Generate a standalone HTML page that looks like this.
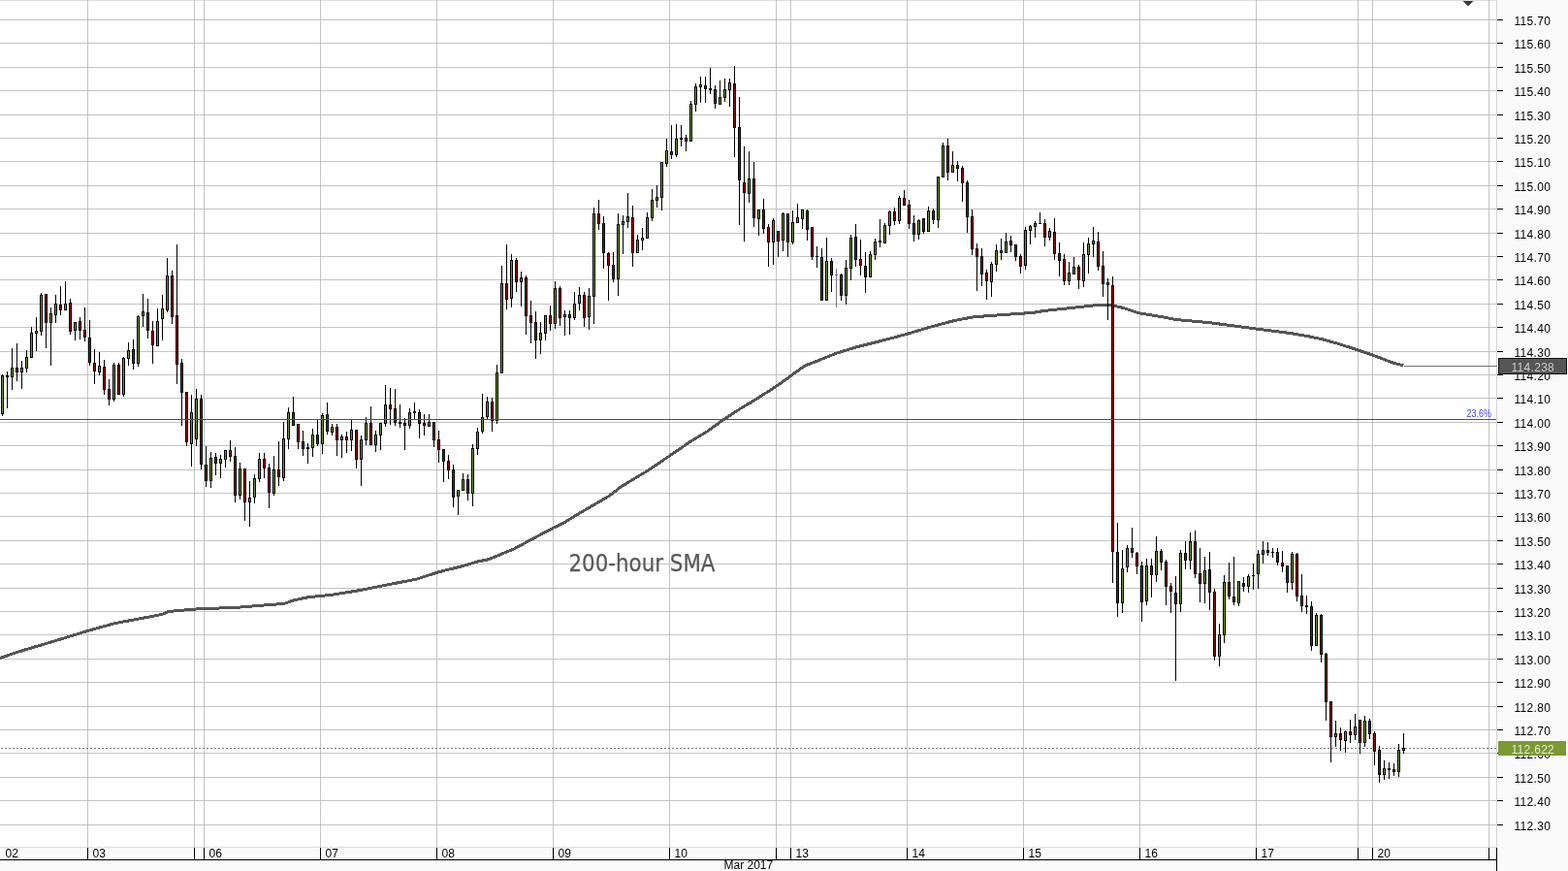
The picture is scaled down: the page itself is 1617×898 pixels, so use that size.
<!DOCTYPE html>
<html lang="en"><head><meta charset="utf-8"><title>USD/JPY 200-hour SMA chart</title>
<style>
html,body{margin:0;padding:0;background:#fafafa;}
body{width:1617px;height:898px;overflow:hidden;font-family:"Liberation Sans",Arial,sans-serif;}
svg{display:block;}
</style></head><body>
<svg width="1617" height="898" viewBox="0 0 1617 898" font-family="'Liberation Sans', Arial, sans-serif">
<rect width="1617" height="898" fill="#fafafa"/>
<rect x="0" y="0" width="1543" height="873" fill="#ffffff"/>
<g shape-rendering="crispEdges" fill="#c3c3c3">
<rect x="0" y="0" width="1543" height="1" fill="#dcdcdc"/>
<rect x="0" y="20" width="1543" height="1"/>
<rect x="0" y="44" width="1543" height="1"/>
<rect x="0" y="69" width="1543" height="1"/>
<rect x="0" y="93" width="1543" height="1"/>
<rect x="0" y="118" width="1543" height="1"/>
<rect x="0" y="142" width="1543" height="1"/>
<rect x="0" y="166" width="1543" height="1"/>
<rect x="0" y="191" width="1543" height="1"/>
<rect x="0" y="215" width="1543" height="1"/>
<rect x="0" y="240" width="1543" height="1"/>
<rect x="0" y="264" width="1543" height="1"/>
<rect x="0" y="288" width="1543" height="1"/>
<rect x="0" y="313" width="1543" height="1"/>
<rect x="0" y="337" width="1543" height="1"/>
<rect x="0" y="362" width="1543" height="1"/>
<rect x="0" y="386" width="1543" height="1"/>
<rect x="0" y="410" width="1543" height="1"/>
<rect x="0" y="435" width="1543" height="1"/>
<rect x="0" y="459" width="1543" height="1"/>
<rect x="0" y="484" width="1543" height="1"/>
<rect x="0" y="508" width="1543" height="1"/>
<rect x="0" y="532" width="1543" height="1"/>
<rect x="0" y="557" width="1543" height="1"/>
<rect x="0" y="581" width="1543" height="1"/>
<rect x="0" y="606" width="1543" height="1"/>
<rect x="0" y="630" width="1543" height="1"/>
<rect x="0" y="654" width="1543" height="1"/>
<rect x="0" y="679" width="1543" height="1"/>
<rect x="0" y="703" width="1543" height="1"/>
<rect x="0" y="728" width="1543" height="1"/>
<rect x="0" y="752" width="1543" height="1"/>
<rect x="0" y="776" width="1543" height="1"/>
<rect x="0" y="801" width="1543" height="1"/>
<rect x="0" y="825" width="1543" height="1"/>
<rect x="0" y="850" width="1543" height="1"/>
<rect x="90" y="0" width="1" height="873"/>
<rect x="200" y="0" width="1" height="873"/>
<rect x="210" y="0" width="1" height="873"/>
<rect x="330" y="0" width="1" height="873"/>
<rect x="450" y="0" width="1" height="873"/>
<rect x="570" y="0" width="1" height="873"/>
<rect x="690" y="0" width="1" height="873"/>
<rect x="800" y="0" width="1" height="873"/>
<rect x="815" y="0" width="1" height="873"/>
<rect x="935" y="0" width="1" height="873"/>
<rect x="1055" y="0" width="1" height="873"/>
<rect x="1175" y="0" width="1" height="873"/>
<rect x="1295" y="0" width="1" height="873"/>
<rect x="1400" y="0" width="1" height="873"/>
<rect x="1415" y="0" width="1" height="873"/>
<rect x="1535" y="0" width="1" height="873"/>
<rect x="1543" y="0" width="1" height="873" fill="#d4d4d4"/>
<rect x="0" y="873" width="1544" height="1" fill="#dcdcdc"/>
</g>
<text x="1512.6" y="429.6" font-size="10" fill="#3c3cf0" textLength="25.4" lengthAdjust="spacingAndGlyphs">23.6%</text>
<polyline points="0.0,678.6 16.7,672.7 41.8,665.2 66.8,657.7 90.2,650.5 100.2,647.7 116.9,643.0 142.0,638.2 167.0,633.5 173.7,630.5 200.4,628.1 217.1,627.3 242.2,626.5 260.0,625.0 293.4,622.3 303.4,618.7 318.5,615.6 330.2,614.5 343.5,613.1 368.6,609.0 393.7,604.1 430.4,596.9 450.5,590.3 460.5,587.7 477.2,583.6 493.9,578.6 502.3,577.2 515.6,571.9 530.0,566.0 545.1,557.8 570.1,544.5 580.2,539.8 595.2,530.6 628.6,511.1 640.3,501.9 665.4,486.8 690.4,470.1 712.1,455.1 728.9,445.1 745.6,433.0 765.6,420.0 775.1,414.5 800.1,398.6 816.8,386.6 830.2,376.9 843.6,371.9 861.9,364.4 883.7,357.7 900.4,353.5 917.1,349.3 935.5,344.3 953.8,338.8 967.2,335.1 983.9,330.6 1004.0,326.8 1020.0,325.6 1065.0,322.4 1078.0,320.3 1100.9,317.9 1130.5,314.6 1147.0,314.8 1158.5,317.5 1171.0,321.7 1175.5,322.9 1180.0,323.7 1196.7,326.4 1213.4,329.6 1246.8,332.6 1271.9,335.9 1295.3,339.0 1330.4,343.5 1347.0,346.3 1363.8,349.8 1380.5,354.5 1400.6,361.0 1415.6,366.0 1437.3,374.4 1447.3,376.9" fill="none" stroke="#555555" stroke-width="3" stroke-linejoin="round" shape-rendering="crispEdges"/>
<rect x="1448" y="377" width="96" height="1" fill="#707070" shape-rendering="crispEdges"/>
<line x1="1" y1="771.5" x2="1543" y2="771.5" stroke="#777" stroke-width="1" stroke-dasharray="2,2" shape-rendering="crispEdges"/>
<text x="586.5" y="588.8" font-size="24" fill="#5a5a5a" stroke="#5a5a5a" stroke-width="0.25" font-family="'DejaVu Sans Condensed', 'Liberation Sans', sans-serif" textLength="151" lengthAdjust="spacingAndGlyphs">200-hour SMA</text>
<g shape-rendering="crispEdges">
<rect x="2" y="386" width="1" height="43" fill="#000"/>
<rect x="1" y="387" width="3" height="40" fill="#000"/>
<rect x="2" y="388" width="1" height="38" fill="#72962a"/>
<rect x="7" y="383" width="1" height="38" fill="#000"/>
<rect x="6" y="387" width="3" height="2" fill="#000"/>
<rect x="12" y="359" width="1" height="43" fill="#000"/>
<rect x="11" y="379" width="3" height="10" fill="#000"/>
<rect x="12" y="380" width="1" height="8" fill="#72962a"/>
<rect x="17" y="354" width="1" height="39" fill="#000"/>
<rect x="16" y="379" width="3" height="5" fill="#000"/>
<rect x="17" y="380" width="1" height="3" fill="#980c0c"/>
<rect x="22" y="372" width="1" height="29" fill="#000"/>
<rect x="21" y="379" width="3" height="5" fill="#000"/>
<rect x="22" y="380" width="1" height="3" fill="#72962a"/>
<rect x="27" y="361" width="1" height="23" fill="#000"/>
<rect x="26" y="368" width="3" height="12" fill="#000"/>
<rect x="27" y="369" width="1" height="10" fill="#72962a"/>
<rect x="32" y="337" width="1" height="32" fill="#000"/>
<rect x="31" y="343" width="3" height="26" fill="#000"/>
<rect x="32" y="344" width="1" height="24" fill="#72962a"/>
<rect x="37" y="327" width="1" height="35" fill="#000"/>
<rect x="36" y="341" width="3" height="3" fill="#000"/>
<rect x="37" y="342" width="1" height="1" fill="#72962a"/>
<rect x="42" y="302" width="1" height="44" fill="#000"/>
<rect x="41" y="304" width="3" height="38" fill="#000"/>
<rect x="42" y="305" width="1" height="36" fill="#72962a"/>
<rect x="47" y="303" width="1" height="56" fill="#000"/>
<rect x="46" y="303" width="3" height="30" fill="#000"/>
<rect x="47" y="304" width="1" height="28" fill="#980c0c"/>
<rect x="52" y="317" width="1" height="60" fill="#000"/>
<rect x="51" y="323" width="3" height="10" fill="#000"/>
<rect x="52" y="324" width="1" height="8" fill="#72962a"/>
<rect x="57" y="304" width="1" height="29" fill="#000"/>
<rect x="56" y="313" width="3" height="12" fill="#000"/>
<rect x="57" y="314" width="1" height="10" fill="#72962a"/>
<rect x="62" y="295" width="1" height="30" fill="#000"/>
<rect x="61" y="314" width="3" height="6" fill="#000"/>
<rect x="62" y="315" width="1" height="4" fill="#980c0c"/>
<rect x="67" y="290" width="1" height="30" fill="#000"/>
<rect x="66" y="313" width="3" height="7" fill="#000"/>
<rect x="67" y="314" width="1" height="5" fill="#72962a"/>
<rect x="72" y="308" width="1" height="37" fill="#000"/>
<rect x="71" y="312" width="3" height="30" fill="#000"/>
<rect x="72" y="313" width="1" height="28" fill="#980c0c"/>
<rect x="77" y="332" width="1" height="19" fill="#000"/>
<rect x="76" y="332" width="3" height="9" fill="#000"/>
<rect x="77" y="333" width="1" height="7" fill="#72962a"/>
<rect x="82" y="327" width="1" height="23" fill="#000"/>
<rect x="81" y="331" width="3" height="10" fill="#000"/>
<rect x="82" y="332" width="1" height="8" fill="#980c0c"/>
<rect x="87" y="317" width="1" height="35" fill="#000"/>
<rect x="86" y="340" width="3" height="8" fill="#000"/>
<rect x="87" y="341" width="1" height="6" fill="#980c0c"/>
<rect x="92" y="330" width="1" height="47" fill="#000"/>
<rect x="91" y="348" width="3" height="26" fill="#000"/>
<rect x="92" y="349" width="1" height="24" fill="#980c0c"/>
<rect x="97" y="360" width="1" height="36" fill="#000"/>
<rect x="96" y="374" width="3" height="9" fill="#000"/>
<rect x="97" y="375" width="1" height="7" fill="#980c0c"/>
<rect x="102" y="363" width="1" height="24" fill="#000"/>
<rect x="101" y="377" width="3" height="7" fill="#000"/>
<rect x="102" y="378" width="1" height="5" fill="#72962a"/>
<rect x="107" y="371" width="1" height="36" fill="#000"/>
<rect x="106" y="378" width="3" height="24" fill="#000"/>
<rect x="107" y="379" width="1" height="22" fill="#980c0c"/>
<rect x="112" y="391" width="1" height="27" fill="#000"/>
<rect x="111" y="401" width="3" height="11" fill="#000"/>
<rect x="112" y="402" width="1" height="9" fill="#980c0c"/>
<rect x="117" y="374" width="1" height="40" fill="#000"/>
<rect x="116" y="376" width="3" height="36" fill="#000"/>
<rect x="117" y="377" width="1" height="34" fill="#72962a"/>
<rect x="122" y="374" width="1" height="33" fill="#000"/>
<rect x="121" y="376" width="3" height="31" fill="#000"/>
<rect x="122" y="377" width="1" height="29" fill="#980c0c"/>
<rect x="127" y="368" width="1" height="41" fill="#000"/>
<rect x="126" y="369" width="3" height="38" fill="#000"/>
<rect x="127" y="370" width="1" height="36" fill="#72962a"/>
<rect x="132" y="353" width="1" height="24" fill="#000"/>
<rect x="131" y="361" width="3" height="9" fill="#000"/>
<rect x="132" y="362" width="1" height="7" fill="#72962a"/>
<rect x="137" y="350" width="1" height="31" fill="#000"/>
<rect x="136" y="360" width="3" height="15" fill="#000"/>
<rect x="137" y="361" width="1" height="13" fill="#980c0c"/>
<rect x="142" y="325" width="1" height="53" fill="#000"/>
<rect x="141" y="326" width="3" height="49" fill="#000"/>
<rect x="142" y="327" width="1" height="47" fill="#72962a"/>
<rect x="147" y="303" width="1" height="34" fill="#000"/>
<rect x="146" y="321" width="3" height="5" fill="#000"/>
<rect x="147" y="322" width="1" height="3" fill="#72962a"/>
<rect x="152" y="308" width="1" height="41" fill="#000"/>
<rect x="151" y="322" width="3" height="19" fill="#000"/>
<rect x="152" y="323" width="1" height="17" fill="#980c0c"/>
<rect x="157" y="331" width="1" height="44" fill="#000"/>
<rect x="156" y="341" width="3" height="15" fill="#000"/>
<rect x="157" y="342" width="1" height="13" fill="#980c0c"/>
<rect x="162" y="318" width="1" height="39" fill="#000"/>
<rect x="161" y="331" width="3" height="26" fill="#000"/>
<rect x="162" y="332" width="1" height="24" fill="#72962a"/>
<rect x="167" y="304" width="1" height="47" fill="#000"/>
<rect x="166" y="318" width="3" height="11" fill="#000"/>
<rect x="167" y="319" width="1" height="9" fill="#72962a"/>
<rect x="172" y="266" width="1" height="56" fill="#000"/>
<rect x="171" y="284" width="3" height="36" fill="#000"/>
<rect x="172" y="285" width="1" height="34" fill="#72962a"/>
<rect x="177" y="279" width="1" height="55" fill="#000"/>
<rect x="176" y="284" width="3" height="43" fill="#000"/>
<rect x="177" y="285" width="1" height="41" fill="#980c0c"/>
<rect x="182" y="252" width="1" height="144" fill="#000"/>
<rect x="181" y="325" width="3" height="51" fill="#000"/>
<rect x="182" y="326" width="1" height="49" fill="#980c0c"/>
<rect x="187" y="370" width="1" height="69" fill="#000"/>
<rect x="186" y="374" width="3" height="31" fill="#000"/>
<rect x="187" y="375" width="1" height="29" fill="#980c0c"/>
<rect x="192" y="404" width="1" height="56" fill="#000"/>
<rect x="191" y="404" width="3" height="52" fill="#000"/>
<rect x="192" y="405" width="1" height="50" fill="#980c0c"/>
<rect x="197" y="407" width="1" height="74" fill="#000"/>
<rect x="196" y="425" width="3" height="33" fill="#000"/>
<rect x="197" y="426" width="1" height="31" fill="#72962a"/>
<rect x="202" y="401" width="1" height="59" fill="#000"/>
<rect x="201" y="411" width="3" height="42" fill="#000"/>
<rect x="202" y="412" width="1" height="40" fill="#72962a"/>
<rect x="207" y="407" width="1" height="77" fill="#000"/>
<rect x="206" y="411" width="3" height="68" fill="#000"/>
<rect x="207" y="412" width="1" height="66" fill="#980c0c"/>
<rect x="212" y="460" width="1" height="42" fill="#000"/>
<rect x="211" y="479" width="3" height="17" fill="#000"/>
<rect x="212" y="480" width="1" height="15" fill="#980c0c"/>
<rect x="217" y="466" width="1" height="37" fill="#000"/>
<rect x="216" y="472" width="3" height="24" fill="#000"/>
<rect x="217" y="473" width="1" height="22" fill="#72962a"/>
<rect x="222" y="467" width="1" height="23" fill="#000"/>
<rect x="221" y="471" width="3" height="7" fill="#000"/>
<rect x="222" y="472" width="1" height="5" fill="#980c0c"/>
<rect x="227" y="469" width="1" height="24" fill="#000"/>
<rect x="226" y="473" width="3" height="5" fill="#000"/>
<rect x="227" y="474" width="1" height="3" fill="#72962a"/>
<rect x="232" y="464" width="1" height="18" fill="#000"/>
<rect x="231" y="464" width="3" height="10" fill="#000"/>
<rect x="232" y="465" width="1" height="8" fill="#72962a"/>
<rect x="237" y="454" width="1" height="22" fill="#000"/>
<rect x="236" y="464" width="3" height="7" fill="#000"/>
<rect x="237" y="465" width="1" height="5" fill="#980c0c"/>
<rect x="242" y="461" width="1" height="57" fill="#000"/>
<rect x="241" y="470" width="3" height="41" fill="#000"/>
<rect x="242" y="471" width="1" height="39" fill="#980c0c"/>
<rect x="247" y="477" width="1" height="38" fill="#000"/>
<rect x="246" y="483" width="3" height="28" fill="#000"/>
<rect x="247" y="484" width="1" height="26" fill="#72962a"/>
<rect x="252" y="483" width="1" height="54" fill="#000"/>
<rect x="251" y="483" width="3" height="35" fill="#000"/>
<rect x="252" y="484" width="1" height="33" fill="#980c0c"/>
<rect x="257" y="496" width="1" height="47" fill="#000"/>
<rect x="256" y="513" width="3" height="5" fill="#000"/>
<rect x="257" y="514" width="1" height="3" fill="#72962a"/>
<rect x="262" y="489" width="1" height="30" fill="#000"/>
<rect x="261" y="493" width="3" height="20" fill="#000"/>
<rect x="262" y="494" width="1" height="18" fill="#72962a"/>
<rect x="267" y="467" width="1" height="30" fill="#000"/>
<rect x="266" y="473" width="3" height="21" fill="#000"/>
<rect x="267" y="474" width="1" height="19" fill="#72962a"/>
<rect x="272" y="467" width="1" height="26" fill="#000"/>
<rect x="271" y="473" width="3" height="10" fill="#000"/>
<rect x="272" y="474" width="1" height="8" fill="#980c0c"/>
<rect x="277" y="478" width="1" height="46" fill="#000"/>
<rect x="276" y="482" width="3" height="26" fill="#000"/>
<rect x="277" y="483" width="1" height="24" fill="#980c0c"/>
<rect x="282" y="470" width="1" height="41" fill="#000"/>
<rect x="281" y="484" width="3" height="25" fill="#000"/>
<rect x="282" y="485" width="1" height="23" fill="#72962a"/>
<rect x="287" y="455" width="1" height="46" fill="#000"/>
<rect x="286" y="484" width="3" height="8" fill="#000"/>
<rect x="287" y="485" width="1" height="6" fill="#980c0c"/>
<rect x="292" y="435" width="1" height="61" fill="#000"/>
<rect x="291" y="452" width="3" height="41" fill="#000"/>
<rect x="292" y="453" width="1" height="39" fill="#72962a"/>
<rect x="297" y="420" width="1" height="43" fill="#000"/>
<rect x="296" y="425" width="3" height="28" fill="#000"/>
<rect x="297" y="426" width="1" height="26" fill="#72962a"/>
<rect x="302" y="409" width="1" height="30" fill="#000"/>
<rect x="301" y="425" width="3" height="14" fill="#000"/>
<rect x="302" y="426" width="1" height="12" fill="#980c0c"/>
<rect x="307" y="437" width="1" height="26" fill="#000"/>
<rect x="306" y="437" width="3" height="19" fill="#000"/>
<rect x="307" y="438" width="1" height="17" fill="#980c0c"/>
<rect x="312" y="444" width="1" height="26" fill="#000"/>
<rect x="311" y="455" width="3" height="8" fill="#000"/>
<rect x="312" y="456" width="1" height="6" fill="#980c0c"/>
<rect x="317" y="457" width="1" height="21" fill="#000"/>
<rect x="316" y="461" width="3" height="2" fill="#000"/>
<rect x="322" y="442" width="1" height="29" fill="#000"/>
<rect x="321" y="448" width="3" height="14" fill="#000"/>
<rect x="322" y="449" width="1" height="12" fill="#72962a"/>
<rect x="327" y="433" width="1" height="27" fill="#000"/>
<rect x="326" y="448" width="3" height="10" fill="#000"/>
<rect x="327" y="449" width="1" height="8" fill="#980c0c"/>
<rect x="332" y="426" width="1" height="42" fill="#000"/>
<rect x="331" y="428" width="3" height="30" fill="#000"/>
<rect x="332" y="429" width="1" height="28" fill="#72962a"/>
<rect x="337" y="415" width="1" height="33" fill="#000"/>
<rect x="336" y="427" width="3" height="18" fill="#000"/>
<rect x="337" y="428" width="1" height="16" fill="#980c0c"/>
<rect x="342" y="437" width="1" height="12" fill="#000"/>
<rect x="341" y="440" width="3" height="6" fill="#000"/>
<rect x="342" y="441" width="1" height="4" fill="#72962a"/>
<rect x="347" y="437" width="1" height="33" fill="#000"/>
<rect x="346" y="440" width="3" height="14" fill="#000"/>
<rect x="347" y="441" width="1" height="12" fill="#980c0c"/>
<rect x="352" y="448" width="1" height="24" fill="#000"/>
<rect x="351" y="450" width="3" height="4" fill="#000"/>
<rect x="352" y="451" width="1" height="2" fill="#72962a"/>
<rect x="357" y="445" width="1" height="22" fill="#000"/>
<rect x="356" y="450" width="3" height="4" fill="#000"/>
<rect x="357" y="451" width="1" height="2" fill="#980c0c"/>
<rect x="362" y="432" width="1" height="33" fill="#000"/>
<rect x="361" y="443" width="3" height="11" fill="#000"/>
<rect x="362" y="444" width="1" height="9" fill="#72962a"/>
<rect x="367" y="443" width="1" height="40" fill="#000"/>
<rect x="366" y="443" width="3" height="31" fill="#000"/>
<rect x="367" y="444" width="1" height="29" fill="#980c0c"/>
<rect x="372" y="449" width="1" height="52" fill="#000"/>
<rect x="371" y="453" width="3" height="21" fill="#000"/>
<rect x="372" y="454" width="1" height="19" fill="#72962a"/>
<rect x="377" y="430" width="1" height="29" fill="#000"/>
<rect x="376" y="436" width="3" height="18" fill="#000"/>
<rect x="377" y="437" width="1" height="16" fill="#72962a"/>
<rect x="382" y="419" width="1" height="40" fill="#000"/>
<rect x="381" y="436" width="3" height="23" fill="#000"/>
<rect x="382" y="437" width="1" height="21" fill="#980c0c"/>
<rect x="387" y="444" width="1" height="22" fill="#000"/>
<rect x="386" y="448" width="3" height="11" fill="#000"/>
<rect x="387" y="449" width="1" height="9" fill="#72962a"/>
<rect x="392" y="436" width="1" height="28" fill="#000"/>
<rect x="391" y="436" width="3" height="13" fill="#000"/>
<rect x="392" y="437" width="1" height="11" fill="#72962a"/>
<rect x="397" y="397" width="1" height="43" fill="#000"/>
<rect x="396" y="417" width="3" height="20" fill="#000"/>
<rect x="397" y="418" width="1" height="18" fill="#72962a"/>
<rect x="402" y="400" width="1" height="38" fill="#000"/>
<rect x="401" y="417" width="3" height="5" fill="#000"/>
<rect x="402" y="418" width="1" height="3" fill="#980c0c"/>
<rect x="407" y="401" width="1" height="38" fill="#000"/>
<rect x="406" y="421" width="3" height="15" fill="#000"/>
<rect x="407" y="422" width="1" height="13" fill="#980c0c"/>
<rect x="412" y="417" width="1" height="24" fill="#000"/>
<rect x="411" y="435" width="3" height="2" fill="#000"/>
<rect x="417" y="431" width="1" height="33" fill="#000"/>
<rect x="416" y="436" width="3" height="3" fill="#000"/>
<rect x="417" y="437" width="1" height="1" fill="#980c0c"/>
<rect x="422" y="421" width="1" height="21" fill="#000"/>
<rect x="421" y="425" width="3" height="14" fill="#000"/>
<rect x="422" y="426" width="1" height="12" fill="#72962a"/>
<rect x="427" y="415" width="1" height="17" fill="#000"/>
<rect x="426" y="424" width="3" height="2" fill="#000"/>
<rect x="432" y="422" width="1" height="30" fill="#000"/>
<rect x="431" y="425" width="3" height="12" fill="#000"/>
<rect x="432" y="426" width="1" height="10" fill="#980c0c"/>
<rect x="437" y="427" width="1" height="22" fill="#000"/>
<rect x="436" y="436" width="3" height="3" fill="#000"/>
<rect x="437" y="437" width="1" height="1" fill="#980c0c"/>
<rect x="442" y="427" width="1" height="13" fill="#000"/>
<rect x="441" y="435" width="3" height="5" fill="#000"/>
<rect x="442" y="436" width="1" height="3" fill="#72962a"/>
<rect x="447" y="435" width="1" height="26" fill="#000"/>
<rect x="446" y="435" width="3" height="19" fill="#000"/>
<rect x="447" y="436" width="1" height="17" fill="#980c0c"/>
<rect x="452" y="444" width="1" height="33" fill="#000"/>
<rect x="451" y="453" width="3" height="11" fill="#000"/>
<rect x="452" y="454" width="1" height="9" fill="#980c0c"/>
<rect x="457" y="463" width="1" height="34" fill="#000"/>
<rect x="456" y="463" width="3" height="13" fill="#000"/>
<rect x="457" y="464" width="1" height="11" fill="#980c0c"/>
<rect x="462" y="469" width="1" height="25" fill="#000"/>
<rect x="461" y="475" width="3" height="10" fill="#000"/>
<rect x="462" y="476" width="1" height="8" fill="#980c0c"/>
<rect x="467" y="479" width="1" height="44" fill="#000"/>
<rect x="466" y="484" width="3" height="29" fill="#000"/>
<rect x="467" y="485" width="1" height="27" fill="#980c0c"/>
<rect x="472" y="505" width="1" height="26" fill="#000"/>
<rect x="471" y="505" width="3" height="7" fill="#000"/>
<rect x="472" y="506" width="1" height="5" fill="#72962a"/>
<rect x="477" y="488" width="1" height="18" fill="#000"/>
<rect x="476" y="494" width="3" height="12" fill="#000"/>
<rect x="477" y="495" width="1" height="10" fill="#72962a"/>
<rect x="482" y="489" width="1" height="27" fill="#000"/>
<rect x="481" y="494" width="3" height="15" fill="#000"/>
<rect x="482" y="495" width="1" height="13" fill="#980c0c"/>
<rect x="487" y="458" width="1" height="64" fill="#000"/>
<rect x="486" y="462" width="3" height="47" fill="#000"/>
<rect x="487" y="463" width="1" height="45" fill="#72962a"/>
<rect x="492" y="441" width="1" height="28" fill="#000"/>
<rect x="491" y="445" width="3" height="18" fill="#000"/>
<rect x="492" y="446" width="1" height="16" fill="#72962a"/>
<rect x="497" y="406" width="1" height="41" fill="#000"/>
<rect x="496" y="430" width="3" height="15" fill="#000"/>
<rect x="497" y="431" width="1" height="13" fill="#72962a"/>
<rect x="502" y="409" width="1" height="23" fill="#000"/>
<rect x="501" y="414" width="3" height="16" fill="#000"/>
<rect x="502" y="415" width="1" height="14" fill="#72962a"/>
<rect x="507" y="410" width="1" height="35" fill="#000"/>
<rect x="506" y="414" width="3" height="20" fill="#000"/>
<rect x="507" y="415" width="1" height="18" fill="#980c0c"/>
<rect x="512" y="376" width="1" height="61" fill="#000"/>
<rect x="511" y="384" width="3" height="50" fill="#000"/>
<rect x="512" y="385" width="1" height="48" fill="#72962a"/>
<rect x="517" y="274" width="1" height="111" fill="#000"/>
<rect x="516" y="292" width="3" height="93" fill="#000"/>
<rect x="517" y="293" width="1" height="91" fill="#72962a"/>
<rect x="522" y="252" width="1" height="67" fill="#000"/>
<rect x="521" y="292" width="3" height="17" fill="#000"/>
<rect x="522" y="293" width="1" height="15" fill="#980c0c"/>
<rect x="527" y="262" width="1" height="55" fill="#000"/>
<rect x="526" y="268" width="3" height="40" fill="#000"/>
<rect x="527" y="269" width="1" height="38" fill="#72962a"/>
<rect x="532" y="266" width="1" height="35" fill="#000"/>
<rect x="531" y="268" width="3" height="23" fill="#000"/>
<rect x="532" y="269" width="1" height="21" fill="#980c0c"/>
<rect x="537" y="280" width="1" height="36" fill="#000"/>
<rect x="536" y="286" width="3" height="5" fill="#000"/>
<rect x="537" y="287" width="1" height="3" fill="#72962a"/>
<rect x="542" y="284" width="1" height="61" fill="#000"/>
<rect x="541" y="286" width="3" height="40" fill="#000"/>
<rect x="542" y="287" width="1" height="38" fill="#980c0c"/>
<rect x="547" y="310" width="1" height="44" fill="#000"/>
<rect x="546" y="325" width="3" height="8" fill="#000"/>
<rect x="547" y="326" width="1" height="6" fill="#980c0c"/>
<rect x="552" y="321" width="1" height="49" fill="#000"/>
<rect x="551" y="332" width="3" height="19" fill="#000"/>
<rect x="552" y="333" width="1" height="17" fill="#980c0c"/>
<rect x="557" y="332" width="1" height="33" fill="#000"/>
<rect x="556" y="343" width="3" height="8" fill="#000"/>
<rect x="557" y="344" width="1" height="6" fill="#72962a"/>
<rect x="562" y="325" width="1" height="26" fill="#000"/>
<rect x="561" y="325" width="3" height="19" fill="#000"/>
<rect x="562" y="326" width="1" height="17" fill="#72962a"/>
<rect x="567" y="315" width="1" height="26" fill="#000"/>
<rect x="566" y="325" width="3" height="9" fill="#000"/>
<rect x="567" y="326" width="1" height="7" fill="#980c0c"/>
<rect x="572" y="290" width="1" height="49" fill="#000"/>
<rect x="571" y="297" width="3" height="37" fill="#000"/>
<rect x="572" y="298" width="1" height="35" fill="#72962a"/>
<rect x="577" y="295" width="1" height="41" fill="#000"/>
<rect x="576" y="297" width="3" height="31" fill="#000"/>
<rect x="577" y="298" width="1" height="29" fill="#980c0c"/>
<rect x="582" y="320" width="1" height="26" fill="#000"/>
<rect x="581" y="324" width="3" height="3" fill="#000"/>
<rect x="582" y="325" width="1" height="1" fill="#72962a"/>
<rect x="587" y="320" width="1" height="25" fill="#000"/>
<rect x="586" y="324" width="3" height="4" fill="#000"/>
<rect x="587" y="325" width="1" height="2" fill="#980c0c"/>
<rect x="592" y="301" width="1" height="29" fill="#000"/>
<rect x="591" y="313" width="3" height="15" fill="#000"/>
<rect x="592" y="314" width="1" height="13" fill="#72962a"/>
<rect x="597" y="296" width="1" height="24" fill="#000"/>
<rect x="596" y="304" width="3" height="9" fill="#000"/>
<rect x="597" y="305" width="1" height="7" fill="#72962a"/>
<rect x="602" y="301" width="1" height="36" fill="#000"/>
<rect x="601" y="304" width="3" height="24" fill="#000"/>
<rect x="602" y="305" width="1" height="22" fill="#980c0c"/>
<rect x="607" y="297" width="1" height="43" fill="#000"/>
<rect x="606" y="305" width="3" height="22" fill="#000"/>
<rect x="607" y="306" width="1" height="20" fill="#72962a"/>
<rect x="612" y="214" width="1" height="120" fill="#000"/>
<rect x="611" y="220" width="3" height="86" fill="#000"/>
<rect x="612" y="221" width="1" height="84" fill="#72962a"/>
<rect x="617" y="206" width="1" height="31" fill="#000"/>
<rect x="616" y="220" width="3" height="11" fill="#000"/>
<rect x="617" y="221" width="1" height="9" fill="#980c0c"/>
<rect x="622" y="223" width="1" height="54" fill="#000"/>
<rect x="621" y="230" width="3" height="31" fill="#000"/>
<rect x="622" y="231" width="1" height="29" fill="#980c0c"/>
<rect x="627" y="260" width="1" height="50" fill="#000"/>
<rect x="626" y="261" width="3" height="13" fill="#000"/>
<rect x="627" y="262" width="1" height="11" fill="#980c0c"/>
<rect x="632" y="260" width="1" height="31" fill="#000"/>
<rect x="631" y="273" width="3" height="15" fill="#000"/>
<rect x="632" y="274" width="1" height="13" fill="#980c0c"/>
<rect x="637" y="220" width="1" height="85" fill="#000"/>
<rect x="636" y="231" width="3" height="57" fill="#000"/>
<rect x="637" y="232" width="1" height="55" fill="#72962a"/>
<rect x="642" y="222" width="1" height="40" fill="#000"/>
<rect x="641" y="228" width="3" height="4" fill="#000"/>
<rect x="642" y="229" width="1" height="2" fill="#72962a"/>
<rect x="647" y="199" width="1" height="36" fill="#000"/>
<rect x="646" y="223" width="3" height="6" fill="#000"/>
<rect x="647" y="224" width="1" height="4" fill="#72962a"/>
<rect x="652" y="212" width="1" height="63" fill="#000"/>
<rect x="651" y="224" width="3" height="37" fill="#000"/>
<rect x="652" y="225" width="1" height="35" fill="#980c0c"/>
<rect x="657" y="242" width="1" height="19" fill="#000"/>
<rect x="656" y="247" width="3" height="14" fill="#000"/>
<rect x="657" y="248" width="1" height="12" fill="#72962a"/>
<rect x="662" y="235" width="1" height="23" fill="#000"/>
<rect x="661" y="245" width="3" height="3" fill="#000"/>
<rect x="662" y="246" width="1" height="1" fill="#72962a"/>
<rect x="667" y="219" width="1" height="27" fill="#000"/>
<rect x="666" y="224" width="3" height="22" fill="#000"/>
<rect x="667" y="225" width="1" height="20" fill="#72962a"/>
<rect x="672" y="195" width="1" height="33" fill="#000"/>
<rect x="671" y="206" width="3" height="19" fill="#000"/>
<rect x="672" y="207" width="1" height="17" fill="#72962a"/>
<rect x="677" y="191" width="1" height="23" fill="#000"/>
<rect x="676" y="203" width="3" height="4" fill="#000"/>
<rect x="677" y="204" width="1" height="2" fill="#72962a"/>
<rect x="682" y="167" width="1" height="50" fill="#000"/>
<rect x="681" y="167" width="3" height="37" fill="#000"/>
<rect x="682" y="168" width="1" height="35" fill="#72962a"/>
<rect x="687" y="143" width="1" height="29" fill="#000"/>
<rect x="686" y="155" width="3" height="14" fill="#000"/>
<rect x="687" y="156" width="1" height="12" fill="#72962a"/>
<rect x="692" y="129" width="1" height="35" fill="#000"/>
<rect x="691" y="156" width="3" height="4" fill="#000"/>
<rect x="692" y="157" width="1" height="2" fill="#980c0c"/>
<rect x="697" y="128" width="1" height="34" fill="#000"/>
<rect x="696" y="143" width="3" height="17" fill="#000"/>
<rect x="697" y="144" width="1" height="15" fill="#72962a"/>
<rect x="702" y="129" width="1" height="22" fill="#000"/>
<rect x="701" y="142" width="3" height="2" fill="#000"/>
<rect x="707" y="139" width="1" height="17" fill="#000"/>
<rect x="706" y="142" width="3" height="4" fill="#000"/>
<rect x="707" y="143" width="1" height="2" fill="#980c0c"/>
<rect x="712" y="104" width="1" height="42" fill="#000"/>
<rect x="711" y="107" width="3" height="39" fill="#000"/>
<rect x="712" y="108" width="1" height="37" fill="#72962a"/>
<rect x="717" y="86" width="1" height="29" fill="#000"/>
<rect x="716" y="89" width="3" height="19" fill="#000"/>
<rect x="717" y="90" width="1" height="17" fill="#72962a"/>
<rect x="722" y="79" width="1" height="27" fill="#000"/>
<rect x="721" y="87" width="3" height="3" fill="#000"/>
<rect x="722" y="88" width="1" height="1" fill="#72962a"/>
<rect x="727" y="79" width="1" height="27" fill="#000"/>
<rect x="726" y="88" width="3" height="4" fill="#000"/>
<rect x="727" y="89" width="1" height="2" fill="#980c0c"/>
<rect x="732" y="70" width="1" height="27" fill="#000"/>
<rect x="731" y="91" width="3" height="2" fill="#000"/>
<rect x="737" y="88" width="1" height="24" fill="#000"/>
<rect x="736" y="92" width="3" height="15" fill="#000"/>
<rect x="737" y="93" width="1" height="13" fill="#980c0c"/>
<rect x="742" y="83" width="1" height="25" fill="#000"/>
<rect x="741" y="100" width="3" height="8" fill="#000"/>
<rect x="742" y="101" width="1" height="6" fill="#72962a"/>
<rect x="747" y="81" width="1" height="24" fill="#000"/>
<rect x="746" y="92" width="3" height="9" fill="#000"/>
<rect x="747" y="93" width="1" height="7" fill="#72962a"/>
<rect x="752" y="81" width="1" height="29" fill="#000"/>
<rect x="751" y="85" width="3" height="8" fill="#000"/>
<rect x="752" y="86" width="1" height="6" fill="#72962a"/>
<rect x="757" y="68" width="1" height="94" fill="#000"/>
<rect x="756" y="86" width="3" height="46" fill="#000"/>
<rect x="757" y="87" width="1" height="44" fill="#980c0c"/>
<rect x="762" y="100" width="1" height="132" fill="#000"/>
<rect x="761" y="131" width="3" height="55" fill="#000"/>
<rect x="762" y="132" width="1" height="53" fill="#980c0c"/>
<rect x="767" y="151" width="1" height="98" fill="#000"/>
<rect x="766" y="188" width="3" height="11" fill="#000"/>
<rect x="767" y="189" width="1" height="9" fill="#980c0c"/>
<rect x="772" y="156" width="1" height="53" fill="#000"/>
<rect x="771" y="184" width="3" height="16" fill="#000"/>
<rect x="772" y="185" width="1" height="14" fill="#72962a"/>
<rect x="777" y="167" width="1" height="67" fill="#000"/>
<rect x="776" y="184" width="3" height="41" fill="#000"/>
<rect x="777" y="185" width="1" height="39" fill="#980c0c"/>
<rect x="782" y="216" width="1" height="27" fill="#000"/>
<rect x="781" y="216" width="3" height="10" fill="#000"/>
<rect x="782" y="217" width="1" height="8" fill="#72962a"/>
<rect x="787" y="205" width="1" height="36" fill="#000"/>
<rect x="786" y="216" width="3" height="20" fill="#000"/>
<rect x="787" y="217" width="1" height="18" fill="#980c0c"/>
<rect x="792" y="231" width="1" height="44" fill="#000"/>
<rect x="791" y="234" width="3" height="16" fill="#000"/>
<rect x="792" y="235" width="1" height="14" fill="#980c0c"/>
<rect x="797" y="225" width="1" height="48" fill="#000"/>
<rect x="796" y="227" width="3" height="23" fill="#000"/>
<rect x="797" y="228" width="1" height="21" fill="#72962a"/>
<rect x="802" y="238" width="1" height="27" fill="#000"/>
<rect x="801" y="238" width="3" height="11" fill="#000"/>
<rect x="802" y="239" width="1" height="9" fill="#980c0c"/>
<rect x="807" y="219" width="1" height="40" fill="#000"/>
<rect x="806" y="220" width="3" height="28" fill="#000"/>
<rect x="807" y="221" width="1" height="26" fill="#72962a"/>
<rect x="812" y="220" width="1" height="45" fill="#000"/>
<rect x="811" y="220" width="3" height="30" fill="#000"/>
<rect x="812" y="221" width="1" height="28" fill="#980c0c"/>
<rect x="817" y="217" width="1" height="35" fill="#000"/>
<rect x="816" y="229" width="3" height="21" fill="#000"/>
<rect x="817" y="230" width="1" height="19" fill="#72962a"/>
<rect x="822" y="210" width="1" height="20" fill="#000"/>
<rect x="821" y="224" width="3" height="6" fill="#000"/>
<rect x="822" y="225" width="1" height="4" fill="#72962a"/>
<rect x="827" y="216" width="1" height="20" fill="#000"/>
<rect x="826" y="216" width="3" height="10" fill="#000"/>
<rect x="827" y="217" width="1" height="8" fill="#72962a"/>
<rect x="832" y="216" width="1" height="32" fill="#000"/>
<rect x="831" y="217" width="3" height="20" fill="#000"/>
<rect x="832" y="218" width="1" height="18" fill="#980c0c"/>
<rect x="837" y="234" width="1" height="34" fill="#000"/>
<rect x="836" y="234" width="3" height="31" fill="#000"/>
<rect x="837" y="235" width="1" height="29" fill="#980c0c"/>
<rect x="842" y="254" width="1" height="22" fill="#000"/>
<rect x="841" y="264" width="3" height="1" fill="#000"/>
<rect x="847" y="256" width="1" height="54" fill="#000"/>
<rect x="846" y="265" width="3" height="45" fill="#000"/>
<rect x="847" y="266" width="1" height="43" fill="#980c0c"/>
<rect x="852" y="245" width="1" height="65" fill="#000"/>
<rect x="851" y="269" width="3" height="41" fill="#000"/>
<rect x="852" y="270" width="1" height="39" fill="#72962a"/>
<rect x="857" y="266" width="1" height="35" fill="#000"/>
<rect x="856" y="269" width="3" height="15" fill="#000"/>
<rect x="857" y="270" width="1" height="13" fill="#980c0c"/>
<rect x="862" y="277" width="1" height="40" fill="#777"/>
<rect x="861" y="283" width="3" height="1" fill="#777"/>
<rect x="867" y="282" width="1" height="28" fill="#000"/>
<rect x="866" y="283" width="3" height="22" fill="#000"/>
<rect x="867" y="284" width="1" height="20" fill="#980c0c"/>
<rect x="872" y="268" width="1" height="46" fill="#000"/>
<rect x="871" y="276" width="3" height="29" fill="#000"/>
<rect x="872" y="277" width="1" height="27" fill="#72962a"/>
<rect x="877" y="242" width="1" height="47" fill="#000"/>
<rect x="876" y="245" width="3" height="32" fill="#000"/>
<rect x="877" y="246" width="1" height="30" fill="#72962a"/>
<rect x="882" y="231" width="1" height="44" fill="#000"/>
<rect x="881" y="244" width="3" height="24" fill="#000"/>
<rect x="882" y="245" width="1" height="22" fill="#980c0c"/>
<rect x="887" y="247" width="1" height="37" fill="#000"/>
<rect x="886" y="267" width="3" height="7" fill="#000"/>
<rect x="887" y="268" width="1" height="5" fill="#980c0c"/>
<rect x="892" y="260" width="1" height="42" fill="#000"/>
<rect x="891" y="274" width="3" height="12" fill="#000"/>
<rect x="892" y="275" width="1" height="10" fill="#980c0c"/>
<rect x="897" y="259" width="1" height="27" fill="#000"/>
<rect x="896" y="262" width="3" height="24" fill="#000"/>
<rect x="897" y="263" width="1" height="22" fill="#72962a"/>
<rect x="902" y="246" width="1" height="22" fill="#000"/>
<rect x="901" y="249" width="3" height="14" fill="#000"/>
<rect x="902" y="250" width="1" height="12" fill="#72962a"/>
<rect x="907" y="226" width="1" height="29" fill="#000"/>
<rect x="906" y="248" width="3" height="2" fill="#000"/>
<rect x="912" y="230" width="1" height="21" fill="#000"/>
<rect x="911" y="232" width="3" height="19" fill="#000"/>
<rect x="912" y="233" width="1" height="17" fill="#72962a"/>
<rect x="917" y="217" width="1" height="25" fill="#000"/>
<rect x="916" y="218" width="3" height="15" fill="#000"/>
<rect x="917" y="219" width="1" height="13" fill="#72962a"/>
<rect x="922" y="214" width="1" height="18" fill="#000"/>
<rect x="921" y="218" width="3" height="10" fill="#000"/>
<rect x="922" y="219" width="1" height="8" fill="#980c0c"/>
<rect x="927" y="202" width="1" height="29" fill="#000"/>
<rect x="926" y="204" width="3" height="24" fill="#000"/>
<rect x="927" y="205" width="1" height="22" fill="#72962a"/>
<rect x="932" y="196" width="1" height="16" fill="#000"/>
<rect x="931" y="204" width="3" height="8" fill="#000"/>
<rect x="932" y="205" width="1" height="6" fill="#980c0c"/>
<rect x="937" y="206" width="1" height="30" fill="#000"/>
<rect x="936" y="211" width="3" height="20" fill="#000"/>
<rect x="937" y="212" width="1" height="18" fill="#980c0c"/>
<rect x="942" y="222" width="1" height="27" fill="#000"/>
<rect x="941" y="230" width="3" height="12" fill="#000"/>
<rect x="942" y="231" width="1" height="10" fill="#980c0c"/>
<rect x="947" y="226" width="1" height="21" fill="#000"/>
<rect x="946" y="227" width="3" height="15" fill="#000"/>
<rect x="947" y="228" width="1" height="13" fill="#72962a"/>
<rect x="952" y="225" width="1" height="16" fill="#000"/>
<rect x="951" y="225" width="3" height="14" fill="#000"/>
<rect x="952" y="226" width="1" height="12" fill="#980c0c"/>
<rect x="957" y="213" width="1" height="26" fill="#000"/>
<rect x="956" y="217" width="3" height="22" fill="#000"/>
<rect x="957" y="218" width="1" height="20" fill="#72962a"/>
<rect x="962" y="215" width="1" height="16" fill="#000"/>
<rect x="961" y="217" width="3" height="10" fill="#000"/>
<rect x="962" y="218" width="1" height="8" fill="#980c0c"/>
<rect x="967" y="182" width="1" height="53" fill="#000"/>
<rect x="966" y="182" width="3" height="45" fill="#000"/>
<rect x="967" y="183" width="1" height="43" fill="#72962a"/>
<rect x="972" y="147" width="1" height="36" fill="#000"/>
<rect x="971" y="150" width="3" height="33" fill="#000"/>
<rect x="972" y="151" width="1" height="31" fill="#72962a"/>
<rect x="977" y="143" width="1" height="43" fill="#000"/>
<rect x="976" y="150" width="3" height="28" fill="#000"/>
<rect x="977" y="151" width="1" height="26" fill="#980c0c"/>
<rect x="982" y="156" width="1" height="22" fill="#000"/>
<rect x="981" y="170" width="3" height="8" fill="#000"/>
<rect x="982" y="171" width="1" height="6" fill="#72962a"/>
<rect x="987" y="166" width="1" height="21" fill="#000"/>
<rect x="986" y="170" width="3" height="4" fill="#000"/>
<rect x="987" y="171" width="1" height="2" fill="#980c0c"/>
<rect x="992" y="171" width="1" height="37" fill="#000"/>
<rect x="991" y="173" width="3" height="16" fill="#000"/>
<rect x="992" y="174" width="1" height="14" fill="#980c0c"/>
<rect x="997" y="186" width="1" height="54" fill="#000"/>
<rect x="996" y="188" width="3" height="36" fill="#000"/>
<rect x="997" y="189" width="1" height="34" fill="#980c0c"/>
<rect x="1002" y="216" width="1" height="47" fill="#000"/>
<rect x="1001" y="223" width="3" height="34" fill="#000"/>
<rect x="1002" y="224" width="1" height="32" fill="#980c0c"/>
<rect x="1007" y="251" width="1" height="49" fill="#000"/>
<rect x="1006" y="256" width="3" height="9" fill="#000"/>
<rect x="1007" y="257" width="1" height="7" fill="#980c0c"/>
<rect x="1012" y="256" width="1" height="39" fill="#000"/>
<rect x="1011" y="264" width="3" height="19" fill="#000"/>
<rect x="1012" y="265" width="1" height="17" fill="#980c0c"/>
<rect x="1017" y="278" width="1" height="31" fill="#000"/>
<rect x="1016" y="281" width="3" height="9" fill="#000"/>
<rect x="1017" y="282" width="1" height="7" fill="#980c0c"/>
<rect x="1022" y="270" width="1" height="36" fill="#000"/>
<rect x="1021" y="272" width="3" height="19" fill="#000"/>
<rect x="1022" y="273" width="1" height="17" fill="#72962a"/>
<rect x="1027" y="252" width="1" height="28" fill="#000"/>
<rect x="1026" y="258" width="3" height="15" fill="#000"/>
<rect x="1027" y="259" width="1" height="13" fill="#72962a"/>
<rect x="1032" y="246" width="1" height="22" fill="#000"/>
<rect x="1031" y="258" width="3" height="3" fill="#000"/>
<rect x="1032" y="259" width="1" height="1" fill="#980c0c"/>
<rect x="1037" y="240" width="1" height="21" fill="#000"/>
<rect x="1036" y="249" width="3" height="12" fill="#000"/>
<rect x="1037" y="250" width="1" height="10" fill="#72962a"/>
<rect x="1042" y="243" width="1" height="17" fill="#000"/>
<rect x="1041" y="248" width="3" height="5" fill="#000"/>
<rect x="1042" y="249" width="1" height="3" fill="#980c0c"/>
<rect x="1047" y="252" width="1" height="17" fill="#000"/>
<rect x="1046" y="252" width="3" height="13" fill="#000"/>
<rect x="1047" y="253" width="1" height="11" fill="#980c0c"/>
<rect x="1052" y="262" width="1" height="20" fill="#000"/>
<rect x="1051" y="264" width="3" height="11" fill="#000"/>
<rect x="1052" y="265" width="1" height="9" fill="#980c0c"/>
<rect x="1057" y="234" width="1" height="44" fill="#000"/>
<rect x="1056" y="237" width="3" height="37" fill="#000"/>
<rect x="1057" y="238" width="1" height="35" fill="#72962a"/>
<rect x="1062" y="232" width="1" height="20" fill="#000"/>
<rect x="1061" y="233" width="3" height="5" fill="#000"/>
<rect x="1062" y="234" width="1" height="3" fill="#72962a"/>
<rect x="1067" y="228" width="1" height="17" fill="#000"/>
<rect x="1066" y="230" width="3" height="4" fill="#000"/>
<rect x="1067" y="231" width="1" height="2" fill="#72962a"/>
<rect x="1072" y="219" width="1" height="12" fill="#000"/>
<rect x="1071" y="230" width="3" height="1" fill="#000"/>
<rect x="1077" y="226" width="1" height="28" fill="#000"/>
<rect x="1076" y="230" width="3" height="15" fill="#000"/>
<rect x="1077" y="231" width="1" height="13" fill="#980c0c"/>
<rect x="1082" y="235" width="1" height="13" fill="#000"/>
<rect x="1081" y="238" width="3" height="7" fill="#000"/>
<rect x="1082" y="239" width="1" height="5" fill="#72962a"/>
<rect x="1087" y="225" width="1" height="43" fill="#000"/>
<rect x="1086" y="239" width="3" height="23" fill="#000"/>
<rect x="1087" y="240" width="1" height="21" fill="#980c0c"/>
<rect x="1092" y="250" width="1" height="35" fill="#000"/>
<rect x="1091" y="261" width="3" height="8" fill="#000"/>
<rect x="1092" y="262" width="1" height="6" fill="#980c0c"/>
<rect x="1097" y="262" width="1" height="32" fill="#000"/>
<rect x="1096" y="267" width="3" height="23" fill="#000"/>
<rect x="1097" y="268" width="1" height="21" fill="#980c0c"/>
<rect x="1102" y="270" width="1" height="24" fill="#000"/>
<rect x="1101" y="281" width="3" height="9" fill="#000"/>
<rect x="1102" y="282" width="1" height="7" fill="#72962a"/>
<rect x="1107" y="265" width="1" height="18" fill="#000"/>
<rect x="1106" y="275" width="3" height="8" fill="#000"/>
<rect x="1107" y="276" width="1" height="6" fill="#72962a"/>
<rect x="1112" y="273" width="1" height="25" fill="#000"/>
<rect x="1111" y="275" width="3" height="14" fill="#000"/>
<rect x="1112" y="276" width="1" height="12" fill="#980c0c"/>
<rect x="1117" y="250" width="1" height="46" fill="#000"/>
<rect x="1116" y="262" width="3" height="28" fill="#000"/>
<rect x="1117" y="263" width="1" height="26" fill="#72962a"/>
<rect x="1122" y="245" width="1" height="37" fill="#000"/>
<rect x="1121" y="251" width="3" height="12" fill="#000"/>
<rect x="1122" y="252" width="1" height="10" fill="#72962a"/>
<rect x="1127" y="234" width="1" height="31" fill="#000"/>
<rect x="1126" y="248" width="3" height="4" fill="#000"/>
<rect x="1127" y="249" width="1" height="2" fill="#72962a"/>
<rect x="1132" y="239" width="1" height="40" fill="#000"/>
<rect x="1131" y="249" width="3" height="26" fill="#000"/>
<rect x="1132" y="250" width="1" height="24" fill="#980c0c"/>
<rect x="1137" y="259" width="1" height="47" fill="#000"/>
<rect x="1136" y="274" width="3" height="19" fill="#000"/>
<rect x="1137" y="275" width="1" height="17" fill="#980c0c"/>
<rect x="1142" y="287" width="1" height="43" fill="#000"/>
<rect x="1141" y="291" width="3" height="3" fill="#000"/>
<rect x="1142" y="292" width="1" height="1" fill="#72962a"/>
<rect x="1147" y="285" width="1" height="316" fill="#000"/>
<rect x="1146" y="294" width="3" height="275" fill="#000"/>
<rect x="1147" y="295" width="1" height="273" fill="#980c0c"/>
<rect x="1152" y="539" width="1" height="97" fill="#000"/>
<rect x="1151" y="569" width="3" height="53" fill="#000"/>
<rect x="1152" y="570" width="1" height="51" fill="#980c0c"/>
<rect x="1157" y="567" width="1" height="65" fill="#000"/>
<rect x="1156" y="586" width="3" height="36" fill="#000"/>
<rect x="1157" y="587" width="1" height="34" fill="#72962a"/>
<rect x="1162" y="562" width="1" height="28" fill="#000"/>
<rect x="1161" y="565" width="3" height="20" fill="#000"/>
<rect x="1162" y="566" width="1" height="18" fill="#72962a"/>
<rect x="1167" y="544" width="1" height="31" fill="#000"/>
<rect x="1166" y="565" width="3" height="5" fill="#000"/>
<rect x="1167" y="566" width="1" height="3" fill="#980c0c"/>
<rect x="1172" y="569" width="1" height="23" fill="#000"/>
<rect x="1171" y="570" width="3" height="14" fill="#000"/>
<rect x="1172" y="571" width="1" height="12" fill="#980c0c"/>
<rect x="1177" y="579" width="1" height="62" fill="#000"/>
<rect x="1176" y="583" width="3" height="38" fill="#000"/>
<rect x="1177" y="584" width="1" height="36" fill="#980c0c"/>
<rect x="1182" y="576" width="1" height="48" fill="#000"/>
<rect x="1181" y="583" width="3" height="37" fill="#000"/>
<rect x="1182" y="584" width="1" height="35" fill="#72962a"/>
<rect x="1187" y="576" width="1" height="40" fill="#000"/>
<rect x="1186" y="583" width="3" height="10" fill="#000"/>
<rect x="1187" y="584" width="1" height="8" fill="#980c0c"/>
<rect x="1192" y="553" width="1" height="47" fill="#000"/>
<rect x="1191" y="568" width="3" height="25" fill="#000"/>
<rect x="1192" y="569" width="1" height="23" fill="#72962a"/>
<rect x="1197" y="566" width="1" height="22" fill="#000"/>
<rect x="1196" y="568" width="3" height="12" fill="#000"/>
<rect x="1197" y="569" width="1" height="10" fill="#980c0c"/>
<rect x="1202" y="577" width="1" height="47" fill="#000"/>
<rect x="1201" y="579" width="3" height="26" fill="#000"/>
<rect x="1202" y="580" width="1" height="24" fill="#980c0c"/>
<rect x="1207" y="601" width="1" height="31" fill="#000"/>
<rect x="1206" y="604" width="3" height="6" fill="#000"/>
<rect x="1207" y="605" width="1" height="4" fill="#980c0c"/>
<rect x="1212" y="594" width="1" height="108" fill="#000"/>
<rect x="1211" y="611" width="3" height="12" fill="#000"/>
<rect x="1212" y="612" width="1" height="10" fill="#980c0c"/>
<rect x="1217" y="567" width="1" height="64" fill="#000"/>
<rect x="1216" y="570" width="3" height="53" fill="#000"/>
<rect x="1217" y="571" width="1" height="51" fill="#72962a"/>
<rect x="1222" y="558" width="1" height="29" fill="#000"/>
<rect x="1221" y="570" width="3" height="8" fill="#000"/>
<rect x="1222" y="571" width="1" height="6" fill="#980c0c"/>
<rect x="1227" y="549" width="1" height="38" fill="#000"/>
<rect x="1226" y="558" width="3" height="20" fill="#000"/>
<rect x="1227" y="559" width="1" height="18" fill="#72962a"/>
<rect x="1232" y="547" width="1" height="49" fill="#000"/>
<rect x="1231" y="558" width="3" height="34" fill="#000"/>
<rect x="1232" y="559" width="1" height="32" fill="#980c0c"/>
<rect x="1237" y="565" width="1" height="56" fill="#000"/>
<rect x="1236" y="591" width="3" height="11" fill="#000"/>
<rect x="1237" y="592" width="1" height="9" fill="#980c0c"/>
<rect x="1242" y="574" width="1" height="48" fill="#000"/>
<rect x="1241" y="588" width="3" height="14" fill="#000"/>
<rect x="1242" y="589" width="1" height="12" fill="#72962a"/>
<rect x="1247" y="569" width="1" height="60" fill="#000"/>
<rect x="1246" y="587" width="3" height="24" fill="#000"/>
<rect x="1247" y="588" width="1" height="22" fill="#980c0c"/>
<rect x="1252" y="607" width="1" height="74" fill="#000"/>
<rect x="1251" y="610" width="3" height="67" fill="#000"/>
<rect x="1252" y="611" width="1" height="65" fill="#980c0c"/>
<rect x="1257" y="643" width="1" height="44" fill="#000"/>
<rect x="1256" y="654" width="3" height="23" fill="#000"/>
<rect x="1257" y="655" width="1" height="21" fill="#72962a"/>
<rect x="1262" y="593" width="1" height="70" fill="#000"/>
<rect x="1261" y="600" width="3" height="55" fill="#000"/>
<rect x="1262" y="601" width="1" height="53" fill="#72962a"/>
<rect x="1267" y="580" width="1" height="38" fill="#000"/>
<rect x="1266" y="600" width="3" height="15" fill="#000"/>
<rect x="1267" y="601" width="1" height="13" fill="#980c0c"/>
<rect x="1272" y="574" width="1" height="50" fill="#000"/>
<rect x="1271" y="615" width="3" height="6" fill="#000"/>
<rect x="1272" y="616" width="1" height="4" fill="#980c0c"/>
<rect x="1277" y="599" width="1" height="26" fill="#000"/>
<rect x="1276" y="599" width="3" height="23" fill="#000"/>
<rect x="1277" y="600" width="1" height="21" fill="#72962a"/>
<rect x="1282" y="595" width="1" height="15" fill="#000"/>
<rect x="1281" y="601" width="3" height="4" fill="#000"/>
<rect x="1282" y="602" width="1" height="2" fill="#980c0c"/>
<rect x="1287" y="592" width="1" height="19" fill="#000"/>
<rect x="1286" y="594" width="3" height="11" fill="#000"/>
<rect x="1287" y="595" width="1" height="9" fill="#72962a"/>
<rect x="1292" y="581" width="1" height="27" fill="#000"/>
<rect x="1291" y="593" width="3" height="1" fill="#000"/>
<rect x="1297" y="567" width="1" height="40" fill="#000"/>
<rect x="1296" y="571" width="3" height="21" fill="#000"/>
<rect x="1297" y="572" width="1" height="19" fill="#72962a"/>
<rect x="1302" y="558" width="1" height="23" fill="#000"/>
<rect x="1301" y="567" width="3" height="5" fill="#000"/>
<rect x="1302" y="568" width="1" height="3" fill="#72962a"/>
<rect x="1307" y="559" width="1" height="14" fill="#000"/>
<rect x="1306" y="567" width="3" height="3" fill="#000"/>
<rect x="1307" y="568" width="1" height="1" fill="#980c0c"/>
<rect x="1312" y="565" width="1" height="10" fill="#000"/>
<rect x="1311" y="569" width="3" height="1" fill="#000"/>
<rect x="1317" y="565" width="1" height="18" fill="#000"/>
<rect x="1316" y="569" width="3" height="11" fill="#000"/>
<rect x="1317" y="570" width="1" height="9" fill="#980c0c"/>
<rect x="1322" y="568" width="1" height="22" fill="#000"/>
<rect x="1321" y="580" width="3" height="4" fill="#000"/>
<rect x="1322" y="581" width="1" height="2" fill="#980c0c"/>
<rect x="1327" y="583" width="1" height="28" fill="#000"/>
<rect x="1326" y="583" width="3" height="18" fill="#000"/>
<rect x="1327" y="584" width="1" height="16" fill="#980c0c"/>
<rect x="1332" y="569" width="1" height="39" fill="#000"/>
<rect x="1331" y="571" width="3" height="30" fill="#000"/>
<rect x="1332" y="572" width="1" height="28" fill="#72962a"/>
<rect x="1337" y="570" width="1" height="50" fill="#000"/>
<rect x="1336" y="571" width="3" height="44" fill="#000"/>
<rect x="1337" y="572" width="1" height="42" fill="#980c0c"/>
<rect x="1342" y="592" width="1" height="39" fill="#000"/>
<rect x="1341" y="614" width="3" height="11" fill="#000"/>
<rect x="1342" y="615" width="1" height="9" fill="#980c0c"/>
<rect x="1347" y="614" width="1" height="19" fill="#000"/>
<rect x="1346" y="624" width="3" height="2" fill="#000"/>
<rect x="1352" y="620" width="1" height="51" fill="#000"/>
<rect x="1351" y="625" width="3" height="41" fill="#000"/>
<rect x="1352" y="626" width="1" height="39" fill="#980c0c"/>
<rect x="1357" y="632" width="1" height="34" fill="#000"/>
<rect x="1356" y="634" width="3" height="32" fill="#000"/>
<rect x="1357" y="635" width="1" height="30" fill="#72962a"/>
<rect x="1362" y="633" width="1" height="50" fill="#000"/>
<rect x="1361" y="634" width="3" height="41" fill="#000"/>
<rect x="1362" y="635" width="1" height="39" fill="#980c0c"/>
<rect x="1367" y="673" width="1" height="70" fill="#000"/>
<rect x="1366" y="674" width="3" height="50" fill="#000"/>
<rect x="1367" y="675" width="1" height="48" fill="#980c0c"/>
<rect x="1372" y="723" width="1" height="63" fill="#000"/>
<rect x="1371" y="723" width="3" height="37" fill="#000"/>
<rect x="1372" y="724" width="1" height="35" fill="#980c0c"/>
<rect x="1377" y="743" width="1" height="27" fill="#000"/>
<rect x="1376" y="756" width="3" height="4" fill="#000"/>
<rect x="1377" y="757" width="1" height="2" fill="#72962a"/>
<rect x="1382" y="750" width="1" height="24" fill="#000"/>
<rect x="1381" y="756" width="3" height="7" fill="#000"/>
<rect x="1382" y="757" width="1" height="5" fill="#980c0c"/>
<rect x="1387" y="753" width="1" height="23" fill="#000"/>
<rect x="1386" y="754" width="3" height="10" fill="#000"/>
<rect x="1387" y="755" width="1" height="8" fill="#72962a"/>
<rect x="1392" y="742" width="1" height="24" fill="#000"/>
<rect x="1391" y="754" width="3" height="4" fill="#000"/>
<rect x="1392" y="755" width="1" height="2" fill="#980c0c"/>
<rect x="1397" y="736" width="1" height="27" fill="#000"/>
<rect x="1396" y="749" width="3" height="9" fill="#000"/>
<rect x="1397" y="750" width="1" height="7" fill="#72962a"/>
<rect x="1402" y="742" width="1" height="35" fill="#000"/>
<rect x="1401" y="742" width="3" height="24" fill="#000"/>
<rect x="1402" y="743" width="1" height="22" fill="#980c0c"/>
<rect x="1407" y="738" width="1" height="32" fill="#000"/>
<rect x="1406" y="743" width="3" height="23" fill="#000"/>
<rect x="1407" y="744" width="1" height="21" fill="#72962a"/>
<rect x="1412" y="741" width="1" height="21" fill="#000"/>
<rect x="1411" y="743" width="3" height="14" fill="#000"/>
<rect x="1412" y="744" width="1" height="12" fill="#980c0c"/>
<rect x="1417" y="754" width="1" height="35" fill="#000"/>
<rect x="1416" y="756" width="3" height="19" fill="#000"/>
<rect x="1417" y="757" width="1" height="17" fill="#980c0c"/>
<rect x="1422" y="769" width="1" height="38" fill="#000"/>
<rect x="1421" y="773" width="3" height="26" fill="#000"/>
<rect x="1422" y="774" width="1" height="24" fill="#980c0c"/>
<rect x="1427" y="784" width="1" height="20" fill="#000"/>
<rect x="1426" y="792" width="3" height="7" fill="#000"/>
<rect x="1427" y="793" width="1" height="5" fill="#72962a"/>
<rect x="1432" y="786" width="1" height="17" fill="#000"/>
<rect x="1431" y="792" width="3" height="2" fill="#000"/>
<rect x="1437" y="787" width="1" height="13" fill="#000"/>
<rect x="1436" y="793" width="3" height="3" fill="#000"/>
<rect x="1437" y="794" width="1" height="1" fill="#980c0c"/>
<rect x="1442" y="767" width="1" height="34" fill="#000"/>
<rect x="1441" y="773" width="3" height="23" fill="#000"/>
<rect x="1442" y="774" width="1" height="21" fill="#72962a"/>
<rect x="1447" y="756" width="1" height="21" fill="#000"/>
<rect x="1446" y="771" width="3" height="3" fill="#000"/>
<rect x="1447" y="772" width="1" height="1" fill="#72962a"/>
</g>
<rect x="0" y="432" width="1543" height="1" fill="#3c3cf0" shape-rendering="crispEdges"/>
<g shape-rendering="crispEdges" fill="#000">
<rect x="1544" y="20" width="6" height="1"/>
<rect x="1544" y="44" width="6" height="1"/>
<rect x="1544" y="69" width="6" height="1"/>
<rect x="1544" y="93" width="6" height="1"/>
<rect x="1544" y="118" width="6" height="1"/>
<rect x="1544" y="142" width="6" height="1"/>
<rect x="1544" y="166" width="6" height="1"/>
<rect x="1544" y="191" width="6" height="1"/>
<rect x="1544" y="215" width="6" height="1"/>
<rect x="1544" y="240" width="6" height="1"/>
<rect x="1544" y="264" width="6" height="1"/>
<rect x="1544" y="288" width="6" height="1"/>
<rect x="1544" y="313" width="6" height="1"/>
<rect x="1544" y="337" width="6" height="1"/>
<rect x="1544" y="362" width="6" height="1"/>
<rect x="1544" y="386" width="6" height="1"/>
<rect x="1544" y="410" width="6" height="1"/>
<rect x="1544" y="435" width="6" height="1"/>
<rect x="1544" y="459" width="6" height="1"/>
<rect x="1544" y="484" width="6" height="1"/>
<rect x="1544" y="508" width="6" height="1"/>
<rect x="1544" y="532" width="6" height="1"/>
<rect x="1544" y="557" width="6" height="1"/>
<rect x="1544" y="581" width="6" height="1"/>
<rect x="1544" y="606" width="6" height="1"/>
<rect x="1544" y="630" width="6" height="1"/>
<rect x="1544" y="654" width="6" height="1"/>
<rect x="1544" y="679" width="6" height="1"/>
<rect x="1544" y="703" width="6" height="1"/>
<rect x="1544" y="728" width="6" height="1"/>
<rect x="1544" y="752" width="6" height="1"/>
<rect x="1544" y="776" width="6" height="1"/>
<rect x="1544" y="801" width="6" height="1"/>
<rect x="1544" y="825" width="6" height="1"/>
<rect x="1544" y="850" width="6" height="1"/>
</g>
<g font-size="12" fill="#000">
<text x="1561.5" y="26.3" letter-spacing="0.3">115.70</text>
<text x="1561.5" y="50.3" letter-spacing="0.3">115.60</text>
<text x="1561.5" y="75.3" letter-spacing="0.3">115.50</text>
<text x="1561.5" y="99.3" letter-spacing="0.3">115.40</text>
<text x="1561.5" y="124.3" letter-spacing="0.3">115.30</text>
<text x="1561.5" y="148.3" letter-spacing="0.3">115.20</text>
<text x="1561.5" y="172.3" letter-spacing="0.3">115.10</text>
<text x="1561.5" y="197.3" letter-spacing="0.3">115.00</text>
<text x="1561.5" y="221.3" letter-spacing="0.3">114.90</text>
<text x="1561.5" y="246.3" letter-spacing="0.3">114.80</text>
<text x="1561.5" y="270.3" letter-spacing="0.3">114.70</text>
<text x="1561.5" y="294.3" letter-spacing="0.3">114.60</text>
<text x="1561.5" y="319.3" letter-spacing="0.3">114.50</text>
<text x="1561.5" y="343.3" letter-spacing="0.3">114.40</text>
<text x="1561.5" y="368.3" letter-spacing="0.3">114.30</text>
<text x="1561.5" y="392.3" letter-spacing="0.3">114.20</text>
<text x="1561.5" y="416.3" letter-spacing="0.3">114.10</text>
<text x="1561.5" y="441.3" letter-spacing="0.3">114.00</text>
<text x="1561.5" y="465.3" letter-spacing="0.3">113.90</text>
<text x="1561.5" y="490.3" letter-spacing="0.3">113.80</text>
<text x="1561.5" y="514.3" letter-spacing="0.3">113.70</text>
<text x="1561.5" y="538.3" letter-spacing="0.3">113.60</text>
<text x="1561.5" y="563.3" letter-spacing="0.3">113.50</text>
<text x="1561.5" y="587.3" letter-spacing="0.3">113.40</text>
<text x="1561.5" y="612.3" letter-spacing="0.3">113.30</text>
<text x="1561.5" y="636.3" letter-spacing="0.3">113.20</text>
<text x="1561.5" y="660.3" letter-spacing="0.3">113.10</text>
<text x="1561.5" y="685.3" letter-spacing="0.3">113.00</text>
<text x="1561.5" y="709.3" letter-spacing="0.3">112.90</text>
<text x="1561.5" y="734.3" letter-spacing="0.3">112.80</text>
<text x="1561.5" y="758.3" letter-spacing="0.3">112.70</text>
<text x="1561.5" y="782.3" letter-spacing="0.3">112.60</text>
<text x="1561.5" y="807.3" letter-spacing="0.3">112.50</text>
<text x="1561.5" y="831.3" letter-spacing="0.3">112.40</text>
<text x="1561.5" y="856.3" letter-spacing="0.3">112.30</text>
</g>
<g shape-rendering="crispEdges" fill="#000">
<rect x="0" y="886" width="1544" height="1"/>
<rect x="1543" y="874" width="1" height="24"/>
<rect x="90" y="874" width="1" height="13"/>
<rect x="200" y="874" width="1" height="13"/>
<rect x="210" y="874" width="1" height="13"/>
<rect x="330" y="874" width="1" height="13"/>
<rect x="450" y="874" width="1" height="13"/>
<rect x="570" y="874" width="1" height="13"/>
<rect x="690" y="874" width="1" height="13"/>
<rect x="800" y="874" width="1" height="13"/>
<rect x="815" y="874" width="1" height="13"/>
<rect x="935" y="874" width="1" height="13"/>
<rect x="1055" y="874" width="1" height="13"/>
<rect x="1175" y="874" width="1" height="13"/>
<rect x="1295" y="874" width="1" height="13"/>
<rect x="1400" y="874" width="1" height="13"/>
<rect x="1415" y="874" width="1" height="13"/>
<rect x="1535" y="874" width="1" height="13"/>
</g>
<g font-size="12" fill="#000">
<text x="5.5" y="884.3">02</text>
<text x="95.5" y="884.3">03</text>
<text x="215.5" y="884.3">06</text>
<text x="335.5" y="884.3">07</text>
<text x="455.5" y="884.3">08</text>
<text x="575.5" y="884.3">09</text>
<text x="695.5" y="884.3">10</text>
<text x="820.5" y="884.3">13</text>
<text x="940.5" y="884.3">14</text>
<text x="1060.5" y="884.3">15</text>
<text x="1180.5" y="884.3">16</text>
<text x="1300.5" y="884.3">17</text>
<text x="1420.5" y="884.3">20</text>
<text x="746.5" y="895.8">Mar 2017</text>
</g>
<rect x="1545.5" y="369.5" width="70" height="16" fill="#555555" stroke="#111" stroke-width="1"/>
<text x="1558.5" y="382.7" font-size="12" letter-spacing="0.3" fill="#cccccc">114.238</text>
<rect x="1545" y="764" width="70" height="15" fill="#7a9a32" shape-rendering="crispEdges"/>
<text x="1558.5" y="776.9" font-size="12" letter-spacing="0.3" fill="#e8e8d8">112.622</text>
<polygon points="1508.5,1 1519.5,1 1514,6.5" fill="#3a3a3a"/>
</svg>
</body></html>
